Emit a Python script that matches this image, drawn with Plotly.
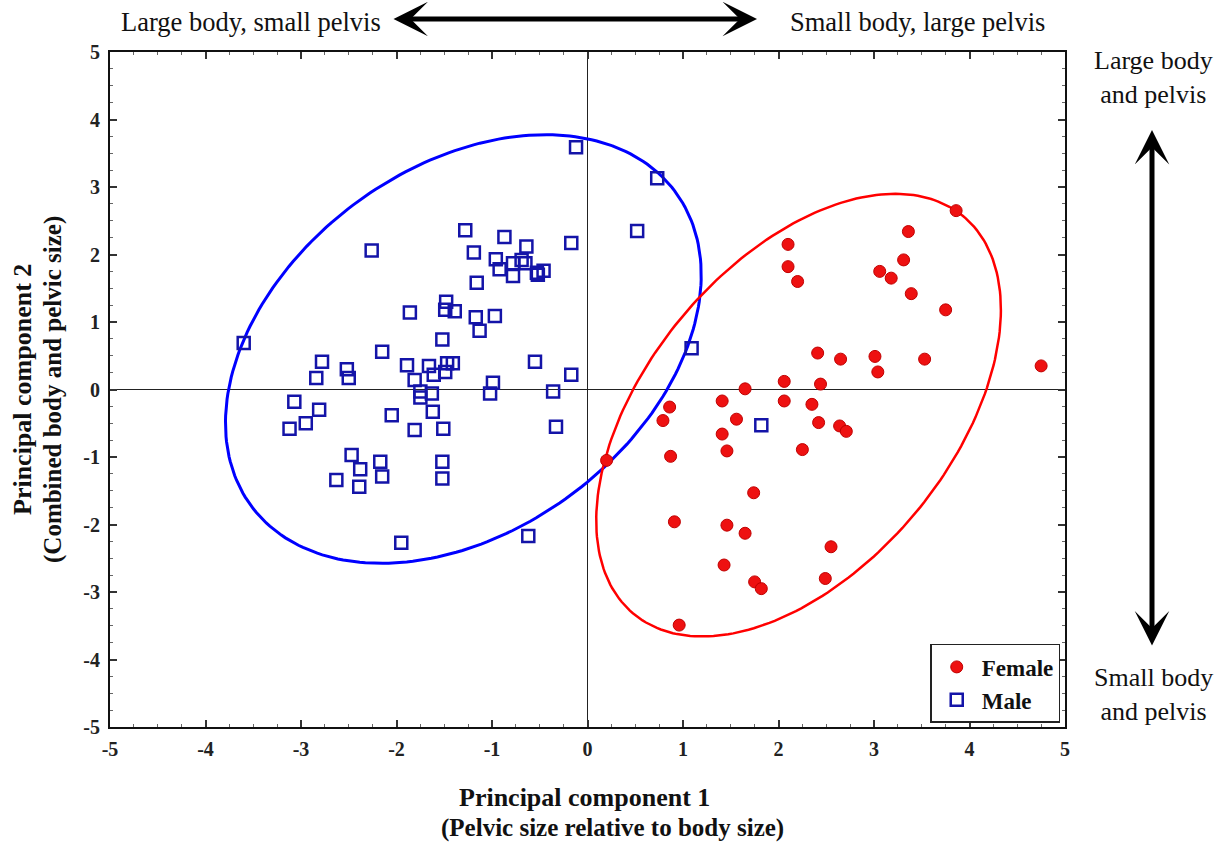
import numpy as np
import plotly.graph_objects as go

# PCA scores
female_pc1 = [3.86, 3.36, 2.10, 3.31, 2.10, 3.06, 3.18, 2.20, 3.39, 3.75,
              2.41, 2.65, 3.01, 3.53, 4.75, 3.04, 2.06, 2.44, 1.65, 1.41,
              2.06, 2.35, 0.86, 0.79, 1.56, 2.42, 2.64, 2.71, 1.41, 1.46,
              2.25, 0.87, 0.20, 1.74, 0.91, 1.46, 1.65, 2.55, 1.43, 2.49,
              1.75, 1.82, 0.96]
female_pc2 = [2.65, 2.34, 2.15, 1.92, 1.82, 1.75, 1.65, 1.60, 1.42, 1.18,
              0.54, 0.45, 0.49, 0.45, 0.35, 0.26, 0.12, 0.08, 0.01, -0.17,
              -0.17, -0.22, -0.26, -0.46, -0.44, -0.49, -0.54, -0.62, -0.66, -0.91,
              -0.89, -0.99, -1.05, -1.53, -1.96, -2.01, -2.13, -2.33, -2.60, -2.80,
              -2.85, -2.95, -3.49]

male_pc1 = [-1.28, -0.87, -0.64, -0.17, -2.26, -1.19, -0.96, -0.78, -0.69, -0.65,
            -0.92, -0.78, -0.53, -0.46, -0.52, -1.16, -1.48, -1.49, -1.39, -1.86,
            -1.17, -0.97, -1.13, -1.52, -3.60, -2.15, -2.78, -2.52, -2.50, -2.84,
            -1.89, -1.66, -1.47, -1.41, -1.49, -1.61, -1.81, -0.55, -0.17, -0.99,
            -1.02, -0.36, -1.75, -1.63, -1.75, -3.07, -1.62, -2.81, -2.05, -2.95,
            -3.12, -1.81, -1.51, -0.33, -2.47, -2.17, -1.52, -2.38, -2.15, -1.52,
            -2.63, -2.39, -1.95, -0.62, -0.12, 0.73, 0.52, 1.09, 1.82]
male_pc2 = [2.36, 2.26, 2.12, 2.17, 2.06, 2.03, 1.93, 1.87, 1.92, 1.87,
            1.78, 1.68, 1.73, 1.76, 1.70, 1.58, 1.30, 1.18, 1.16, 1.14,
            1.07, 1.09, 0.87, 0.74, 0.69, 0.56, 0.41, 0.30, 0.17, 0.17,
            0.36, 0.35, 0.39, 0.39, 0.26, 0.22, 0.14, 0.41, 0.22, 0.10,
            -0.06, -0.03, -0.03, -0.06, -0.12, -0.18, -0.33, -0.30, -0.38, -0.50,
            -0.58, -0.60, -0.58, -0.55, -0.97, -1.07, -1.07, -1.18, -1.29, -1.32,
            -1.34, -1.44, -2.27, -2.17, 3.59, 3.13, 2.35, 0.61, -0.53]

tick_vals = [-5, -4, -3, -2, -1, 0, 1, 2, 3, 4, 5]
tick_text = ["-5", "-4", "-3", "-2", "-1", "0", "1", "2", "3", "4", "5"]

# ellipses: centre, semi-axes, angle (deg)
male_ellipse = dict(cx=-1.30, cy=0.60, a=3.39, b=2.19, angle=62.7)
female_ellipse = dict(cx=2.21, cy=-0.38, a=3.49, b=1.75, angle=66.7)

SERIF = "Liberation Serif, Times New Roman, serif"


def ellipse_path(cx, cy, a, b, angle, n=240):
    t = np.linspace(0, 2 * np.pi, n)
    th = np.deg2rad(angle)
    x = cx + a * np.cos(th) * np.cos(t) - b * np.sin(th) * np.sin(t)
    y = cy + a * np.sin(th) * np.cos(t) + b * np.cos(th) * np.sin(t)
    return x, y


fig = go.Figure()

ex, ey = ellipse_path(**male_ellipse)
fig.add_trace(go.Scatter(x=ex, y=ey, mode="lines", line=dict(color="#0000ff", width=3),
                         showlegend=False, hoverinfo="skip"))
ex, ey = ellipse_path(**female_ellipse)
fig.add_trace(go.Scatter(x=ex, y=ey, mode="lines", line=dict(color="#ff0000", width=2.5),
                         showlegend=False, hoverinfo="skip"))

fig.add_trace(go.Scatter(
    x=female_pc1, y=female_pc2, mode="markers", name="Female",
    marker=dict(symbol="circle", size=12, color="#ee1111", line=dict(color="#c00000", width=1)),
))
fig.add_trace(go.Scatter(
    x=male_pc1, y=male_pc2, mode="markers", name="Male",
    marker=dict(symbol="square-open", size=12, color="#1414a8", line=dict(width=2.5)),
))

axis_common = dict(
    showgrid=False, zeroline=True, zerolinecolor="#222222", zerolinewidth=1,
    showline=True, linecolor="#111111", linewidth=2, mirror="ticks",
    ticks="inside", ticklen=7, tickwidth=1.5, tickcolor="#333333",
    tickvals=tick_vals, ticktext=tick_text,
    tickfont=dict(family=SERIF, size=20, color="#222222", weight="bold"),
    minor=dict(ticks="inside", dtick=0.25, ticklen=3, tickcolor="#666666", tickwidth=1),
    fixedrange=True,
)
fig.update_xaxes(range=[-5, 5], ticklabelstandoff=3, **axis_common)
fig.update_yaxes(range=[-5, 5], ticklabelstandoff=4, **axis_common)

# paper coordinates from pixel positions of the original layout
def px(x):
    return (x - 110) / 955


def py(y):
    return (727 - y) / 675


annotations = [
    # axis titles
    dict(text="<b>Principal component 1</b>", x=px(584), y=py(797), font_size=26),
    dict(text="<b>(Pelvic size relative to body size)</b>", x=px(612), y=py(828), font_size=25),
    dict(text="<b>Principal component 2</b>", x=px(22), y=py(390), textangle=-90, font_size=26),
    dict(text="<b>(Combined body and pelvic size)</b>", x=px(53), y=py(390), textangle=-90, font_size=25),
    # direction labels
    dict(text="Large body, small pelvis", x=px(251), y=py(22), font_size=26.5),
    dict(text="Small body, large pelvis", x=px(917), y=py(22), font_size=26.5),
    dict(text="Large body<br>and pelvis", x=px(1153), y=py(77), font_size=26),
    dict(text="Small body<br>and pelvis", x=px(1153), y=py(694), font_size=26),
]
for a in annotations:
    fig.add_annotation(xref="paper", yref="paper", showarrow=False,
                       xanchor="center", yanchor="middle",
                       font=dict(family=SERIF, color="#111111", size=a.pop("font_size")), **a)

# double-headed arrows
fig.add_annotation(xref="paper", yref="paper", x=px(757), y=py(19),
                   ax=-365, ay=0, axref="pixel", ayref="pixel", text="",
                   showarrow=True, arrowside="end+start", arrowhead=3, arrowsize=1.15,
                   arrowwidth=5, arrowcolor="black", standoff=0, startstandoff=0)
fig.add_annotation(xref="paper", yref="paper", x=px(1152), y=py(130),
                   ax=0, ay=517, axref="pixel", ayref="pixel", text="",
                   showarrow=True, arrowside="end+start", arrowhead=3, arrowsize=1.15,
                   arrowwidth=5, arrowcolor="black", standoff=0, startstandoff=0)

fig.update_layout(
    width=1227, height=847,
    margin=dict(l=110, r=162, t=52, b=120, autoexpand=False),
    plot_bgcolor="white", paper_bgcolor="white",
    legend=dict(
        x=0.995, y=0.006, xanchor="right", yanchor="bottom",
        bgcolor="white", bordercolor="#222222", borderwidth=1.5,
        font=dict(family=SERIF, size=23, color="#111111", weight="bold"),
        itemsizing="trace", tracegroupgap=0, itemwidth=40,
    ),
    font=dict(family=SERIF),
)

# the page body has a default 8px margin; remove it so the figure sits at (0, 0)
fig.write_html("out.html", config={"displayModeBar": False},
               post_script="document.body.style.margin='0';")
